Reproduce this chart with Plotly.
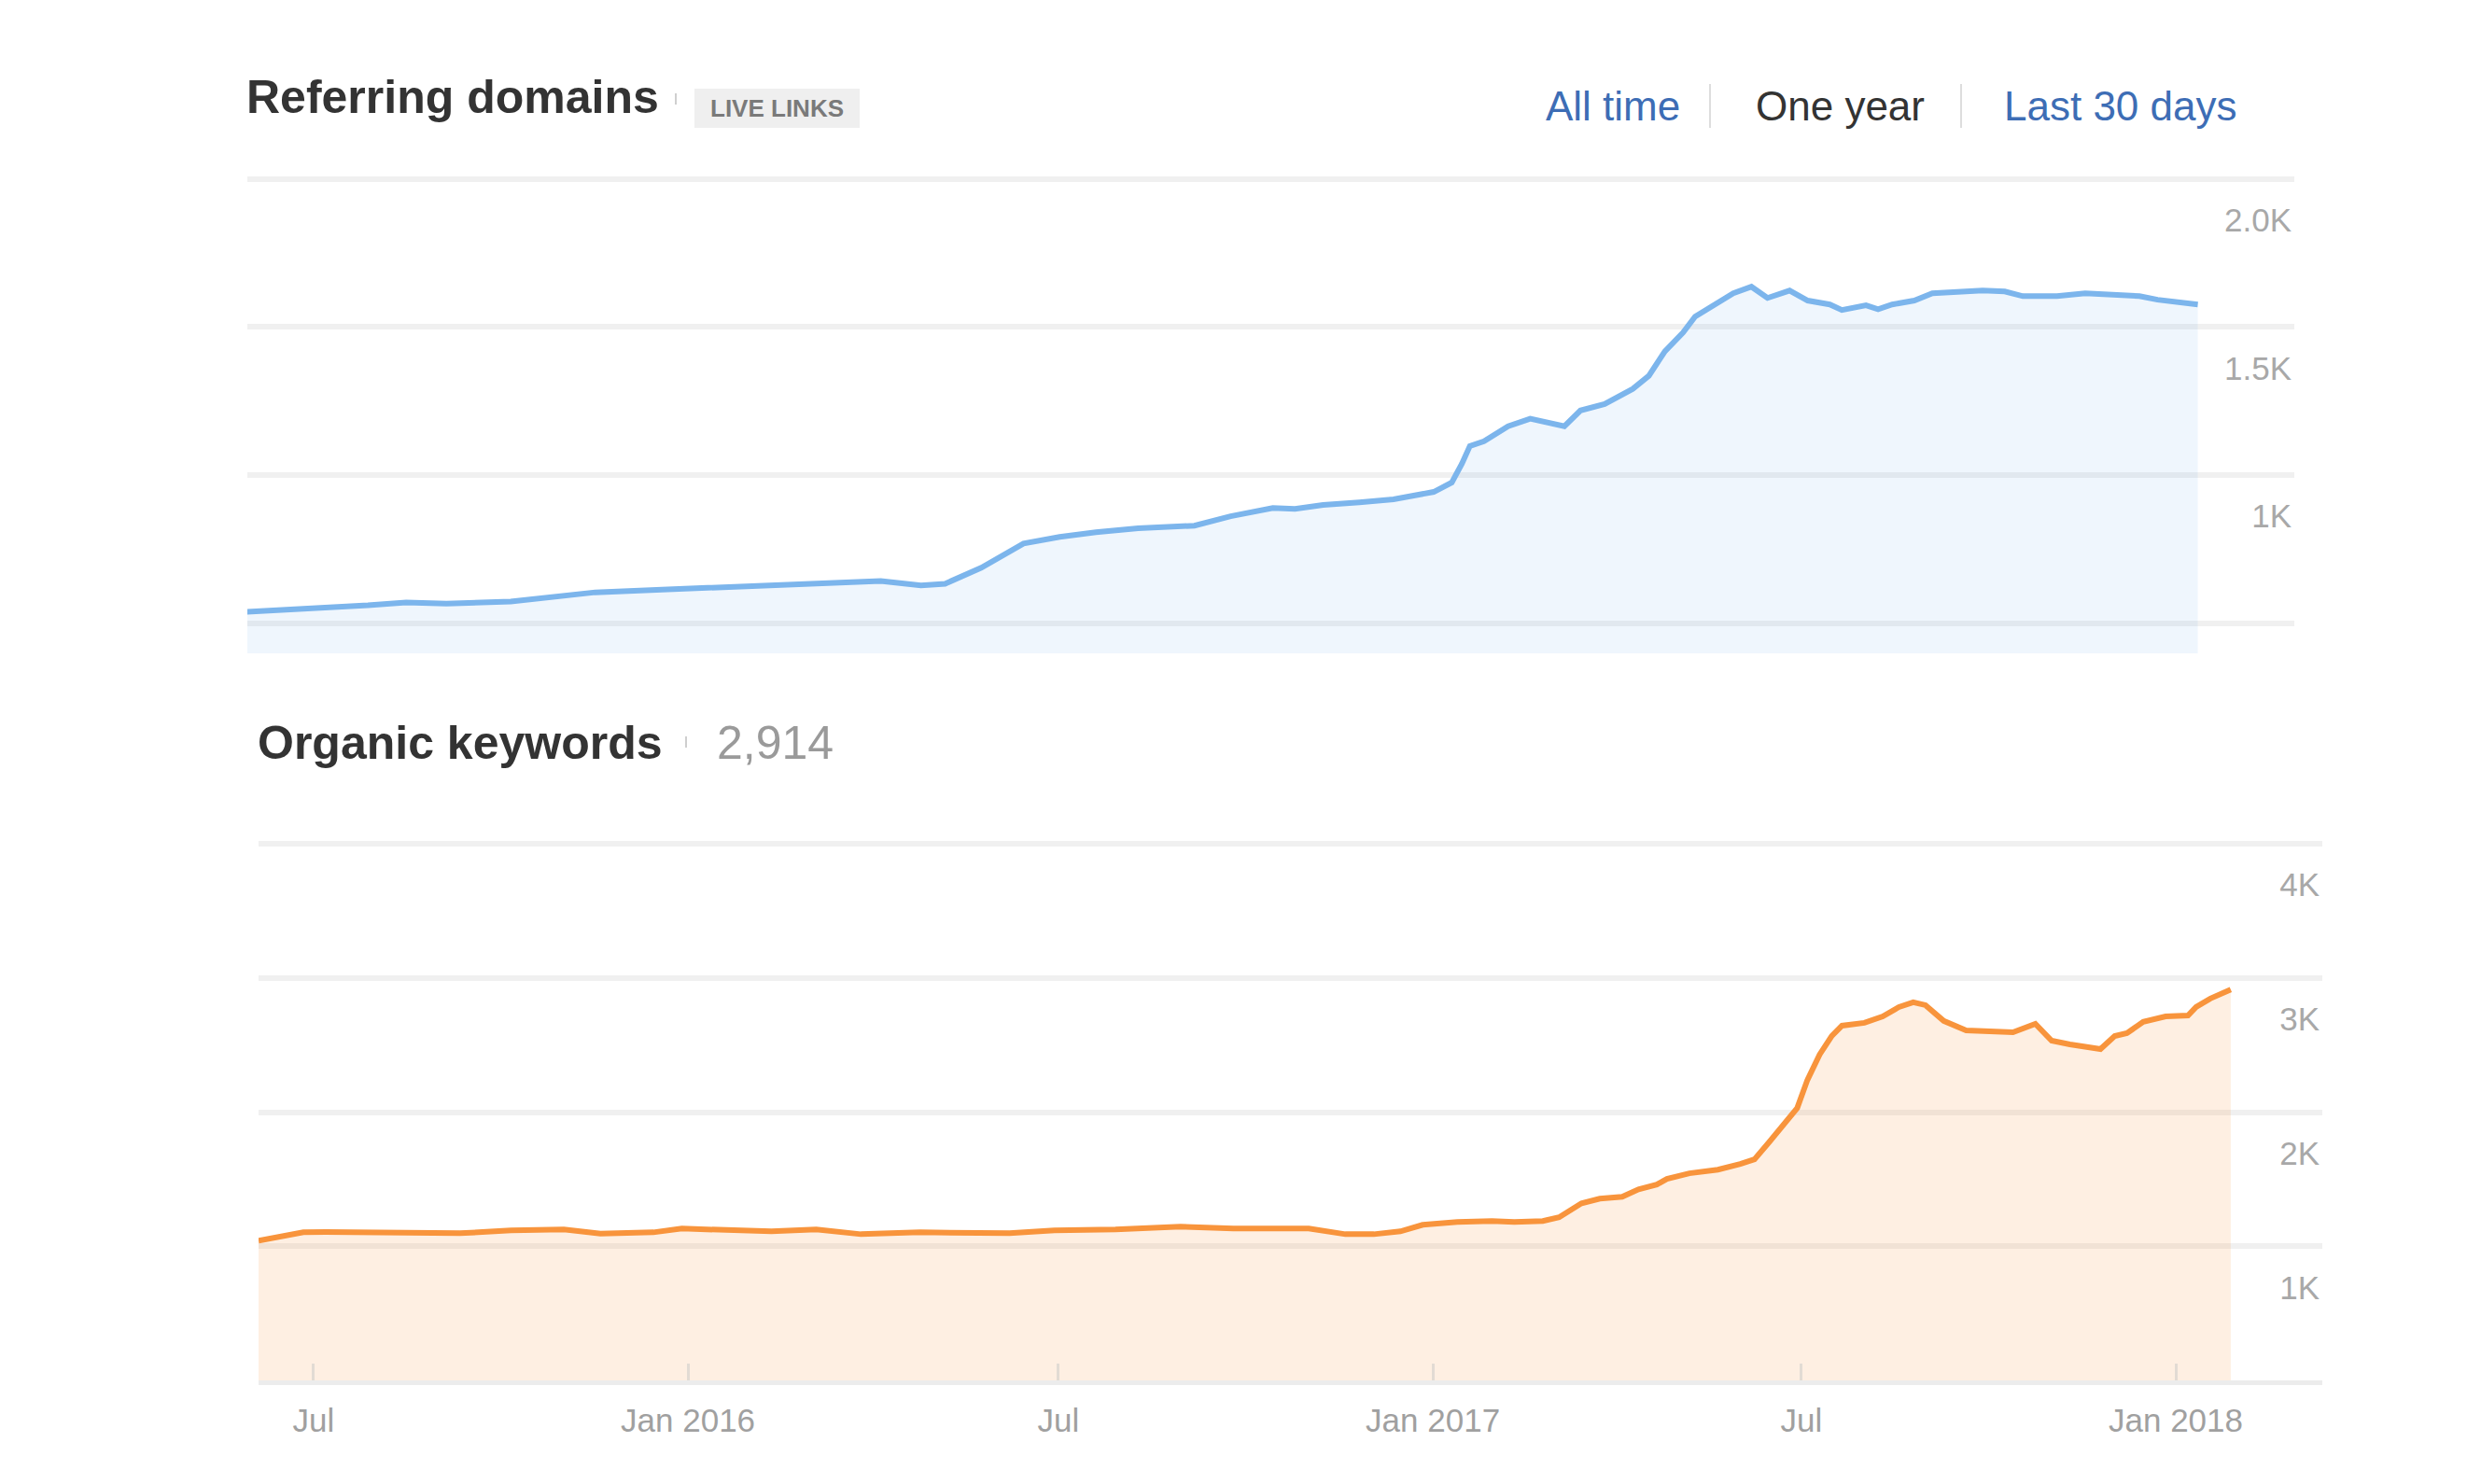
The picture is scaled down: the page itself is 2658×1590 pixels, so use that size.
import plotly.graph_objects as go

W, H = 2658, 1590
PAGE_PAD = 8  # body margin of the html page
FONT = "Liberation Sans, Arial, sans-serif"

# referring domains (live links)
rd_dates = ['2015-06-03', '2015-06-21', '2015-07-16', '2015-08-03', '2015-08-22', '2015-09-11',
            '2015-10-13', '2015-10-27', '2015-11-24', '2015-12-30', '2016-02-03', '2016-03-10',
            '2016-03-24', '2016-04-14', '2016-05-04', '2016-05-16', '2016-06-03', '2016-06-24',
            '2016-07-12', '2016-07-30', '2016-08-20', '2016-09-17', '2016-10-05', '2016-10-26',
            '2016-11-06', '2016-11-20', '2016-12-08', '2016-12-25', '2017-01-14', '2017-01-23',
            '2017-01-28', '2017-02-01', '2017-02-08', '2017-02-20', '2017-03-03', '2017-03-09',
            '2017-03-20', '2017-03-28', '2017-04-09', '2017-04-23', '2017-05-01', '2017-05-09',
            '2017-05-18', '2017-05-24', '2017-06-01', '2017-06-12', '2017-06-21', '2017-06-29',
            '2017-07-10', '2017-07-19', '2017-07-30', '2017-08-05', '2017-08-17', '2017-08-23',
            '2017-08-30', '2017-09-10', '2017-09-19', '2017-10-14', '2017-10-25', '2017-11-03',
            '2017-11-20', '2017-12-04', '2017-12-31', '2018-01-09', '2018-01-29']
rd_values = [538, 544, 551, 560, 570, 566, 573, 582, 604, 614, 623, 636, 639, 642, 627, 633,
             687, 769, 791, 807, 820, 829, 861, 889, 886, 899, 908, 918, 943, 975, 1038, 1098,
             1114, 1165, 1190, 1180, 1165, 1218, 1240, 1291, 1335, 1418, 1481, 1535, 1566, 1614,
             1636, 1598, 1623, 1589, 1576, 1557, 1573, 1560, 1576, 1589, 1614, 1623, 1620, 1604,
             1604, 1614, 1604, 1592, 1576]

# organic keywords
kw_dates = ['2015-06-04', '2015-06-15', '2015-06-26', '2015-07-07', '2015-08-12', '2015-09-11',
            '2015-10-06', '2015-11-01', '2015-11-19', '2015-12-15', '2015-12-29', '2016-01-20',
            '2016-02-11', '2016-03-04', '2016-03-26', '2016-04-24', '2016-06-07', '2016-06-29',
            '2016-07-29', '2016-08-30', '2016-09-25', '2016-11-01', '2016-11-19', '2016-12-03',
            '2016-12-16', '2016-12-27', '2017-01-13', '2017-01-30', '2017-02-10', '2017-02-24',
            '2017-03-04', '2017-03-15', '2017-03-24', '2017-04-04', '2017-04-12', '2017-04-21',
            '2017-04-26', '2017-05-07', '2017-05-21', '2017-06-01', '2017-06-08', '2017-06-15',
            '2017-06-23', '2017-06-29', '2017-07-04', '2017-07-10', '2017-07-16', '2017-07-21',
            '2017-08-01', '2017-08-10', '2017-08-18', '2017-08-25', '2017-08-31', '2017-09-09',
            '2017-09-20', '2017-10-02', '2017-10-13', '2017-10-24', '2017-11-01', '2017-11-10',
            '2017-11-25', '2017-12-02', '2017-12-08', '2017-12-16', '2017-12-27', '2018-01-07',
            '2018-01-11', '2018-01-18', '2018-01-28']
kw_values = [1042, 1077, 1104, 1106, 1106, 1097, 1118, 1125, 1095, 1104, 1132, 1125, 1111, 1125,
             1090, 1104, 1097, 1118, 1125, 1146, 1132, 1132, 1090, 1090, 1111, 1160, 1181, 1188,
             1181, 1188, 1216, 1320, 1355, 1369, 1425, 1460, 1502, 1544, 1571, 1613, 1648, 1773,
             1913, 2031, 2240, 2429, 2568, 2645, 2666, 2714, 2784, 2819, 2798, 2680, 2610, 2603,
             2596, 2659, 2533, 2505, 2470, 2568, 2589, 2673, 2714, 2721, 2784, 2847, 2914]

rd_ticks = [500, 1000, 1500, 2000]
rd_ticktext = ['500', '1K', '1.5K', '2.0K']
kw_ticks = [1000, 2000, 3000, 4000]
kw_ticktext = ['1K', '2K', '3K', '4K']
x_ticks = ['2015-07-01', '2016-01-01', '2016-07-01', '2017-01-01', '2017-07-01', '2018-01-01']
x_ticktext = ['Jul', 'Jan 2016', 'Jul', 'Jan 2017', 'Jul', 'Jan 2018']

FW, FH = W - 2 * PAGE_PAD, H - 2 * PAGE_PAD


def px(x):
    return (x - PAGE_PAD) / FW


def py(y):
    return 1 - (y - PAGE_PAD) / FH


fig = go.Figure()
fig.add_trace(go.Scatter(x=rd_dates, y=rd_values, mode='lines', fill='tozeroy',
                         line=dict(color='#7cb5ec', width=6),
                         fillcolor='rgba(124,181,236,0.12)', xaxis='x', yaxis='y',
                         hoverinfo='skip'))
fig.add_trace(go.Scatter(x=kw_dates, y=kw_values, mode='lines', fill='tozeroy',
                         line=dict(color='#f8943c', width=6),
                         fillcolor='rgba(247,146,59,0.15)', xaxis='x2', yaxis='y2',
                         hoverinfo='skip'))

grid = dict(showgrid=True, gridcolor='#f0f0f0', gridwidth=6, zeroline=False)
ytick_font = dict(family=FONT, size=35, color='#a8a8a8')

fig.update_layout(
    width=FW, height=FH, margin=dict(l=0, r=0, t=0, b=0),
    paper_bgcolor='white', plot_bgcolor='white', showlegend=False,
    xaxis=dict(domain=[px(265), px(2458)], range=['2015-06-04', '2018-03-18'],
               showgrid=False, showticklabels=False, zeroline=False, anchor='y'),
    yaxis=dict(domain=[py(700), py(185)], range=[398, 2021], side='right', anchor='x',
               tickvals=rd_ticks, ticktext=rd_ticktext, ticklabelposition='inside',
               ticklabelshift=44, tickfont=ytick_font, **grid),
    xaxis2=dict(domain=[px(277), px(2488)], range=['2015-06-04', '2018-03-14'], anchor='y2',
                tickvals=x_ticks, ticktext=x_ticktext, ticks='inside', ticklen=18,
                tickwidth=3, tickcolor='#e2dbd4', showline=True, linecolor='#ececec',
                linewidth=5, showgrid=False, zeroline=False, ticklabelstandoff=8,
                tickfont=dict(family=FONT, size=35, color='#a0a0a0')),
    yaxis2=dict(domain=[py(1479), py(898)], range=[0, 4043], side='right', anchor='x2',
                tickvals=kw_ticks, ticktext=kw_ticktext, ticklabelposition='inside',
                ticklabelshift=44, tickfont=ytick_font, **grid),
)

shapes = [
    # crop edge of the upper chart, hides most of the 500 label
    dict(type='rect', xref='paper', yref='paper', x0=px(2200), x1=px(2500),
         y0=py(760), y1=py(701), fillcolor='white', line=dict(width=0), layer='above'),
    # LIVE LINKS badge
    dict(type='rect', xref='paper', yref='paper', x0=px(744), x1=px(921),
         y0=py(137), y1=py(95), fillcolor='#efefef', line=dict(width=0)),
    # tiny dots after the titles
    dict(type='line', xref='paper', yref='paper', x0=px(724), x1=px(724),
         y0=py(112), y1=py(100), line=dict(color='#cfcfcf', width=2)),
    dict(type='line', xref='paper', yref='paper', x0=px(735), x1=px(735),
         y0=py(801), y1=py(789), line=dict(color='#cfcfcf', width=2)),
    # separators between the range links
    dict(type='line', xref='paper', yref='paper', x0=px(1832), x1=px(1832),
         y0=py(137), y1=py(90), line=dict(color='#dddddd', width=2)),
    dict(type='line', xref='paper', yref='paper', x0=px(2101), x1=px(2101),
         y0=py(137), y1=py(90), line=dict(color='#dddddd', width=2)),
]
fig.update_layout(shapes=shapes)


def label(text, x, y, size, color, bold=False, xanchor='left'):
    if bold:
        text = '<b>' + text + '</b>'
    fig.add_annotation(text=text, x=px(x), y=py(y), xref='paper', yref='paper',
                       xanchor=xanchor, yanchor='middle', showarrow=False,
                       font=dict(family=FONT, size=size, color=color))


label('Referring domains', 262, 104, 50, '#333333', bold=True)
label('LIVE LINKS', 832, 116, 26, '#7a7a7a', bold=True, xanchor='center')
label('All time', 1654, 113, 44, '#3d6db5')
label('One year', 1879, 113, 44, '#333333')
label('Last 30 days', 2145, 113, 44, '#3d6db5')
label('Organic keywords', 274, 796, 50, '#333333', bold=True)
label('2,914', 766, 796, 50, '#9a9a9a')

fig.write_html("out.html")
